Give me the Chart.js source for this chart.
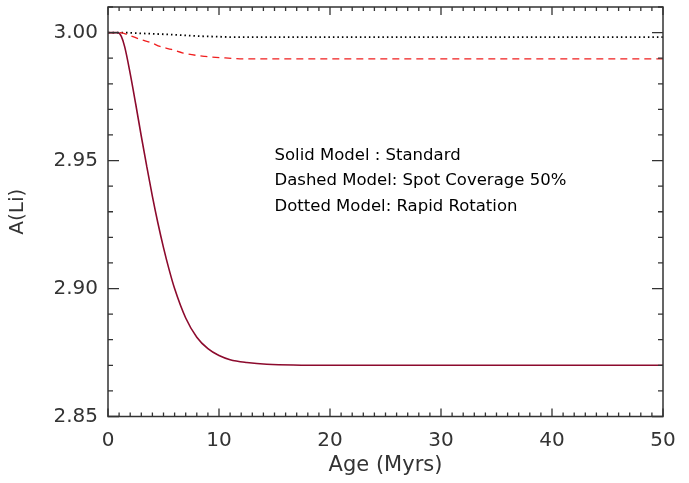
<!DOCTYPE html>
<html>
<head>
<meta charset="utf-8">
<script src="https://cdn.jsdelivr.net/npm/chart.js@4.4.1/dist/chart.umd.min.js"></script>
<style>
  html, body { margin: 0; padding: 0; background: #fff; }
  #wrap { width: 689px; height: 483px; }
</style>
</head>
<body>
<div id="wrap"><canvas id="chart"></canvas></div>
<script>
// values
var solidAge = [0, 0.9, 1.2, 1.5, 2.0, 2.5, 3.0, 3.5, 4.0, 4.5, 5.0, 5.5, 6.0, 7.0, 8.0, 9.0, 10, 11, 12.5, 14.3, 20, 50];
var solidLi  = [3.000, 3.000, 2.9985, 2.9945, 2.984, 2.972, 2.9595, 2.9475, 2.936, 2.9255, 2.916, 2.9075, 2.900, 2.8885, 2.881, 2.8765, 2.8738, 2.8722, 2.8711, 2.8704, 2.870, 2.870];

var dashedAge = [0, 1.1, 2, 2.88, 3.93, 4.68, 5.73, 6.77, 8.74, 10.5, 12.8, 50];
var dashedLi  = [3.000, 3.000, 2.9988, 2.9974, 2.996, 2.9946, 2.9934, 2.992, 2.9907, 2.9901, 2.9897, 2.9897];

var dottedAge = [0, 1, 2, 3, 5.3, 7, 8.3, 10, 11.3, 15, 50];
var dottedLi  = [3.000, 3.000, 2.9999, 2.9997, 2.9993, 2.9989, 2.9986, 2.9984, 2.9982, 2.9982, 2.9982];

var xTicks = [0, 10, 20, 30, 40, 50];
var yTicks = [2.85, 2.90, 2.95, 3.00];
var notes = ["Solid Model : Standard", "Dashed Model: Spot Coverage 50%", "Dotted Model: Rapid Rotation"];
var noteAge = 15;
var noteLi = [2.952, 2.942, 2.932];

function pts(xs, ys) {
    return xs.map(function (x, i) { return { x: x, y: ys[i] }; });
}

var font = "'DejaVu Sans', sans-serif";

// frame with inward ticks on all four sides
var frame = {
    id: 'frame',
    afterDraw: function (chart) {
        var c = chart.ctx, a = chart.chartArea;
        var xs = chart.scales.x, ys = chart.scales.y;
        c.save();
        c.strokeStyle = '#333';
        c.lineWidth = 1.5;
        c.strokeRect(a.left, a.top, a.right - a.left, a.bottom - a.top);
        c.lineWidth = 1.3;
        c.beginPath();
        for (var i = 0; i <= 50; i++) {
            var px = xs.getPixelForValue(i);
            var len = (i % 10 === 0) ? 8 : 4;
            c.moveTo(px, a.bottom); c.lineTo(px, a.bottom - len);
            c.moveTo(px, a.top); c.lineTo(px, a.top + len);
        }
        for (var j = 0; j <= 16; j++) {
            var v = 2.85 + j * 0.01;
            var py = ys.getPixelForValue(v);
            var l = (j % 5 === 0) ? 11 : 5;
            c.moveTo(a.left, py); c.lineTo(a.left + l, py);
            c.moveTo(a.right, py); c.lineTo(a.right - l, py);
        }
        c.stroke();

        c.fillStyle = '#000';
        c.font = '16.5px ' + font;
        c.textBaseline = 'middle';
        c.textAlign = 'left';
        notes.forEach(function (t, k) {
            c.fillText(t, xs.getPixelForValue(noteAge), ys.getPixelForValue(noteLi[k]));
        });
        c.restore();
    }
};

new Chart(document.getElementById('chart'), {
    type: 'line',
    data: {
        datasets: [{
            label: 'Standard',
            data: pts(solidAge, solidLi),
            borderColor: 'rgb(140, 10, 45)',
            borderWidth: 1.6,
            pointRadius: 0,
            cubicInterpolationMode: 'monotone',
            fill: false
        }, {
            label: 'Spot Coverage 50%',
            data: pts(dashedAge, dashedLi),
            borderColor: 'rgb(240, 30, 30)',
            borderWidth: 1.3,
            borderDash: [7, 5],
            pointRadius: 0,
            cubicInterpolationMode: 'monotone',
            fill: false
        }, {
            label: 'Rapid Rotation',
            data: pts(dottedAge, dottedLi),
            borderColor: '#000',
            borderWidth: 1.8,
            borderDash: [1.5, 3],
            pointRadius: 0,
            cubicInterpolationMode: 'monotone',
            fill: false
        }]
    },
    options: {
        responsive: true,
        maintainAspectRatio: false,
        animation: false,
        layout: { padding: { top: 7, right: 26, left: 0, bottom: 0 } },
        plugins: { legend: { display: false }, tooltip: { enabled: false } },
        scales: {
            x: {
                type: 'linear',
                min: 0, max: 50,
                grid: { display: false, drawTicks: false },
                border: { display: false },
                afterBuildTicks: function (s) { s.ticks = xTicks.map(function (v) { return { value: v }; }); },
                afterFit: function (s) { s.height = 66.5; s.paddingLeft = 0; s.paddingRight = 0; },
                ticks: { padding: 12, color: '#333', font: { family: font, size: 20 }, maxRotation: 0 },
                title: { display: true, text: 'Age (Myrs)', color: '#333', font: { family: font, size: 21 }, padding: { top: 0, bottom: 5 } }
            },
            y: {
                min: 2.85, max: 3.01,
                grid: { display: false, drawTicks: false },
                border: { display: false },
                afterBuildTicks: function (s) { s.ticks = yTicks.map(function (v) { return { value: v }; }); },
                afterFit: function (s) { s.width = 108; s.paddingTop = 0; s.paddingBottom = 0; },
                ticks: { padding: 10, color: '#333', font: { family: font, size: 20 },
                    callback: function (v) { return v.toFixed(2); } },
                title: { display: true, text: 'A(Li)', color: '#333', font: { family: font, size: 20 }, padding: { top: 6, bottom: 0 } }
            }
        }
    },
    plugins: [frame]
});
</script>
</body>
</html>
